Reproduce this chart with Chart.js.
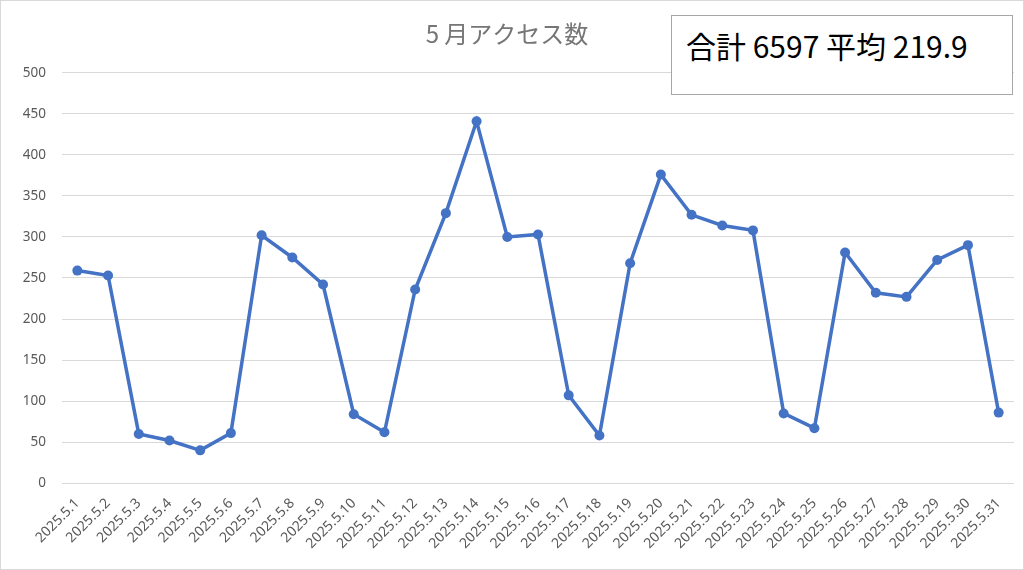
<!DOCTYPE html>
<html>
<head>
<meta charset="utf-8">
<script src="https://cdn.jsdelivr.net/npm/chart.js@4"></script>
<style>
  html, body { margin: 0; padding: 0; background: #fff; }
  #wrap { position: relative; width: 1024px; height: 570px; }
  #summary {
    position: absolute; left: 671px; top: 15px; width: 342px; height: 80px;
    box-sizing: border-box; border: 1px solid #a6a6a6; background: #fff;
    font-family: "Noto Sans CJK JP", "Noto Sans", sans-serif; font-size: 30px;
    color: #000; padding: 11px 0 0 14px; line-height: 1.2; white-space: nowrap;
  }
</style>
</head>
<body>
<div id="wrap">
  <canvas id="chart" width="1024" height="570"></canvas>
  <div id="summary">合計 6597 平均 219.9</div>
</div>
<script>
const days = ["2025.5.1", "2025.5.2", "2025.5.3", "2025.5.4", "2025.5.5", "2025.5.6", "2025.5.7",
  "2025.5.8", "2025.5.9", "2025.5.10", "2025.5.11", "2025.5.12", "2025.5.13", "2025.5.14",
  "2025.5.15", "2025.5.16", "2025.5.17", "2025.5.18", "2025.5.19", "2025.5.20", "2025.5.21",
  "2025.5.22", "2025.5.23", "2025.5.24", "2025.5.25", "2025.5.26", "2025.5.27", "2025.5.28",
  "2025.5.29", "2025.5.30", "2025.5.31"];
const visits = [259, 253, 60, 52, 40, 61, 302, 275, 242, 84, 62, 236, 329, 441, 300, 303, 107,
  58, 268, 376, 327, 314, 308, 85, 67, 281, 232, 227, 272, 290, 86];
const yTicks = [0, 50, 100, 150, 200, 250, 300, 350, 400, 450, 500];

const frame = {
  id: "frame",
  beforeDraw(chart) {
    const ctx = chart.ctx;
    ctx.save();
    ctx.fillStyle = "#fff";
    ctx.fillRect(0, 0, chart.width, chart.height);
    ctx.strokeStyle = "#d9d9d9";
    ctx.lineWidth = 1;
    ctx.strokeRect(0.5, 0.5, chart.width - 1, chart.height - 1);
    ctx.restore();
  }
};

new Chart(document.getElementById("chart"), {
  type: "line",
  data: {
    labels: days,
    datasets: [{
      label: "アクセス数",
      data: visits,
      borderColor: "#4472C4",
      backgroundColor: "#4472C4",
      borderWidth: 3.5,
      pointRadius: 5,
      pointBorderWidth: 0,
      tension: 0
    }]
  },
  options: {
    responsive: false,
    animation: false,
    layout: { padding: { top: 6, right: 10, bottom: 14, left: 0 } },
    plugins: {
      legend: { display: false },
      tooltip: { enabled: false },
      title: {
        display: true,
        text: "5 月アクセス数",
        color: "#767676",
        font: { family: "'Noto Sans CJK JP', sans-serif", size: 24, weight: "normal" },
        padding: { top: 13, bottom: 25 }
      }
    },
    scales: {
      x: {
        offset: true,
        grid: { display: false },
        border: { display: false },
        ticks: {
          color: "#595959",
          font: { family: "'Noto Sans', sans-serif", size: 14 },
          maxRotation: 45,
          minRotation: 45,
          autoSkip: false,
          padding: 4
        }
      },
      y: {
        min: 0,
        max: 500,
        afterBuildTicks(scale) { scale.ticks = yTicks.map(v => ({ value: v })); },
        afterFit(scale) { scale.width = 62; },
        grid: { color: "#d9d9d9", drawTicks: false },
        border: { display: false },
        ticks: {
          color: "#595959",
          font: { family: "'Noto Sans', sans-serif", size: 13.5 },
          padding: 16
        }
      }
    }
  },
  plugins: [frame]
});
</script>
</body>
</html>
